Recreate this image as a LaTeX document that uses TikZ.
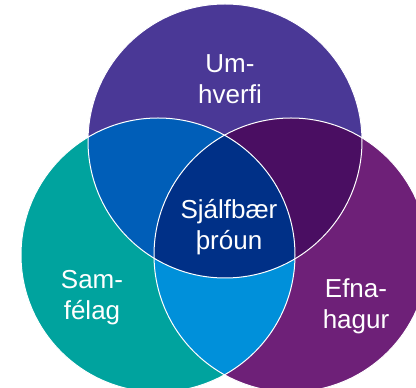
\documentclass[tikz,border=0pt]{standalone}
\usepackage{fontspec}
\setmainfont{Liberation Sans}

\definecolor{umhverfi}{RGB}{74,56,150}
\definecolor{samfelag}{RGB}{0,163,158}
\definecolor{efnahagur}{RGB}{110,32,120}
\definecolor{umsam}{RGB}{0,94,184}
\definecolor{umefna}{RGB}{74,14,98}
\definecolor{samefna}{RGB}{0,144,218}
\definecolor{kjarni}{RGB}{0,48,135}

\begin{document}
\begin{tikzpicture}[x=1pt, y=1pt,
    venntext/.style={text=white, align=center, font=\fontsize{26}{31}\selectfont}]

    \useasboundingbox (0,0) rectangle (416,388);
    \clip (0,0) rectangle (416,388);
    \def\rad{137}

    % circle centres
    \coordinate (cu) at (225,247);
    \coordinate (cs) at (158,133);
    \coordinate (ce) at (291,133);

    % draw circles
    \foreach \c/\col in {cu/umhverfi, cs/samfelag, ce/efnahagur}
        \fill [\col] (\c) circle [radius=\rad];

    % draw overlaps
    \foreach \a/\b/\col in {cu/cs/umsam, cu/ce/umefna, cs/ce/samefna} {
        \begin{scope}
            \clip (\a) circle [radius=\rad];
            \fill [\col] (\b) circle [radius=\rad];
        \end{scope}
    }
    \begin{scope}
        \clip (cu) circle [radius=\rad];
        \clip (cs) circle [radius=\rad];
        \fill [kjarni] (ce) circle [radius=\rad];
    \end{scope}

    % outlines
    \foreach \c in {cu, cs, ce}
        \draw [white, line width=1pt] (\c) circle [radius=\rad];

    % labels
    \node [venntext] (tumhverfi) at (230,309) {Um-\\hverfi};
    \node [venntext] (tsamfelag) at (92,90) {Sam-\\félag};
    \node [venntext] (tefnahagur) at (356,82) {Efna-\\hagur};
    \node [venntext] (tkjarni) at (229,161) {Sjálfbær\\þróun};

\end{tikzpicture}
\end{document}
